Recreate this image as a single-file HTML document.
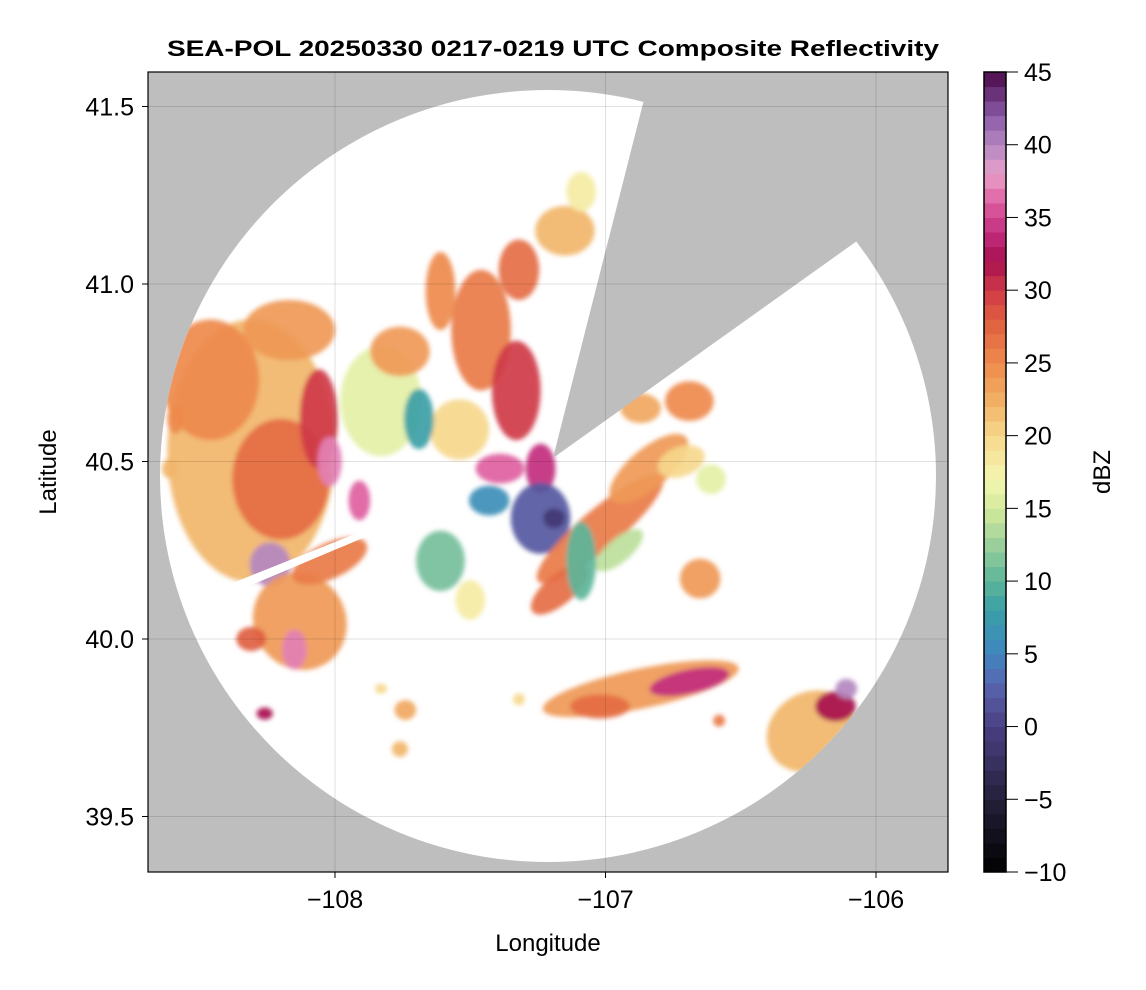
<!DOCTYPE html>
<html><head><meta charset="utf-8">
<style>
html,body{margin:0;padding:0;background:#fff;}
svg{display:block;font-family:"Liberation Sans",Arial,sans-serif;}
</style></head>
<body>
<svg id="chart" width="1146" height="990" viewBox="0 0 1146 990">
<defs>
  <clipPath id="plotclip"><rect x="148" y="72" width="800" height="800"/></clipPath>
  <clipPath id="circclip"><ellipse cx="548" cy="476" rx="388" ry="386"/></clipPath>
  <filter id="soft" x="-20%" y="-20%" width="140%" height="140%"><feGaussianBlur stdDeviation="2.5"/></filter>
</defs>
<text x="553" y="56" text-anchor="middle" font-size="22" font-weight="bold" textLength="772" lengthAdjust="spacingAndGlyphs">SEA-POL 20250330 0217-0219 UTC Composite Reflectivity</text>
<g clip-path="url(#plotclip)">
  <rect x="148" y="72" width="800" height="800" fill="#bebebe"/>
  <ellipse cx="548" cy="476" rx="388" ry="386" fill="#ffffff"/>
  <g id="echoes" clip-path="url(#circclip)" filter="url(#soft)"></g>
  <polygon points="420,508 190,600 192,610 420,514" fill="#ffffff"/>
  <polygon points="553,458 651,72 948,72 948,176" fill="#bebebe"/>
  <g id="grid"></g>
</g>
<rect x="148" y="72" width="800" height="800" fill="none" stroke="#000" stroke-width="1.2"/>
<g id="xaxis"></g>
<g id="yaxis"></g>
<text x="548" y="951" text-anchor="middle" font-size="24">Longitude</text>
<text x="56" y="472" text-anchor="middle" font-size="24" transform="rotate(-90 56 472)">Latitude</text>
<g id="cbar"></g>
<text x="1110" y="472" text-anchor="middle" font-size="24" transform="rotate(-90 1110 472)">dBZ</text>
</svg>
<script>
// ---- data ----
const xTicks = [-108, -107, -106];
const xTickLabels = ["\u2212108", "\u2212107", "\u2212106"];
const yTicks = [39.5, 40.0, 40.5, 41.0, 41.5];
const yTickLabels = ["39.5", "40.0", "40.5", "41.0", "41.5"];
const cbarTicks = [-10, -5, 0, 5, 10, 15, 20, 25, 30, 35, 40, 45];
const cbarTickLabels = ["\u221210", "\u22125", "0", "5", "10", "15", "20", "25", "30", "35", "40", "45"];
// echo cells: centre lon/lat, half-extent in degrees, orientation, reflectivity
const echoLon  = [-108.31,-108.46,-108.17,-108.20,-108.06,-108.02,-107.91,-108.24,-108.13,-108.15,-108.31,-108.26,-108.02,
  -107.83,-107.76,-107.61,-107.32,-107.15,-107.09,-107.46,-107.33,-107.54,-107.69,-107.39,-107.24,
  -107.24,-107.19,-107.43,-107.61,-107.50,-107.02,-107.17,-106.84,-106.72,-106.95,-107.09,
  -106.87,-106.69,-106.65,-106.61,-106.87,-106.69,-107.02,-106.24,-106.15,-106.11,
  -107.74,-107.76,-107.83,-106.58,-107.32,-108.61,-108.59];
const echoLat  = [40.53,40.73,40.87,40.45,40.62,40.50,40.39,40.21,40.05,39.97,40.00,39.79,40.22,
  40.67,40.81,40.98,41.04,41.15,41.26,40.87,40.70,40.59,40.62,40.48,40.48,
  40.34,40.34,40.39,40.22,40.11,40.31,40.14,40.48,40.50,40.25,40.22,
  40.65,40.67,40.17,40.45,39.86,39.88,39.81,39.74,39.81,39.86,
  39.80,39.69,39.86,39.77,39.83,40.48,40.62];
const echoRLon = [0.31,0.18,0.17,0.18,0.07,0.045,0.04,0.075,0.17,0.045,0.055,0.03,0.15,
  0.15,0.11,0.055,0.075,0.11,0.055,0.11,0.09,0.11,0.055,0.09,0.055,
  0.11,0.04,0.075,0.09,0.055,0.30,0.13,0.18,0.09,0.11,0.055,
  0.075,0.09,0.075,0.055,0.37,0.15,0.11,0.17,0.075,0.04,
  0.04,0.03,0.022,0.022,0.022,0.03,0.03];
const echoRLat = [0.37,0.17,0.085,0.17,0.14,0.07,0.056,0.062,0.14,0.056,0.034,0.017,0.05,
  0.155,0.07,0.11,0.085,0.07,0.056,0.17,0.14,0.085,0.085,0.042,0.07,
  0.10,0.028,0.042,0.085,0.056,0.056,0.042,0.056,0.042,0.034,0.11,
  0.042,0.056,0.056,0.042,0.056,0.034,0.034,0.11,0.042,0.028,
  0.028,0.022,0.014,0.017,0.017,0.028,0.042];
const echoAngle = [0,0,0,0,0,0,0,0,-30,0,0,0,-25,
  0,0,0,0,0,0,0,0,0,0,0,0,
  0,0,0,0,0,-40,-40,-40,-20,-40,0,
  0,0,0,0,-12,-12,0,-30,0,0,
  0,0,0,0,0,0,0];
const echoDbz = [22,25,24,27,30,37,36,40,24,37,28,32,26,
  16,24,25,27,22,18,26,30,20,8,36,34,
  2,-1,6,11,18,26,27,24,20,14,10,
  23,25,24,16,24,34,27,22,32,40,
  23,22,20,26,20,22,25];

// ---- scales ----
const xs = lon => 335 + (lon + 108) * 270.5;
const ys = lat => 284 - (lat - 41.0) * 355;
const cbTop = 72, cbBot = 872, cbMin = -10, cbMax = 45;
const cs = v => cbBot - (v - cbMin) / (cbMax - cbMin) * (cbBot - cbTop);

const stops = [[-10,"#000000"],[-5,"#24203a"],[-2,"#3b3466"],[0,"#4b3f82"],[3,"#5866b0"],[5,"#3f86bf"],[8,"#3a9fa6"],[10,"#5cb59a"],[13,"#a6d49c"],[15,"#d4ea9c"],[17,"#f4f6b0"],[20,"#f6d88c"],[22,"#f1b66a"],[25,"#ee8a4c"],[28,"#e05e40"],[30,"#cf3a48"],[32,"#a8104f"],[34,"#c22d7e"],[36,"#de5fa0"],[38,"#e8a0ca"],[40,"#b488c0"],[42,"#8a5aa8"],[45,"#4a0a48"]];
function hex(h){return [1,3,5].map(i=>parseInt(h.substr(i,2),16));}
function cmap(v){
  if(v<=stops[0][0]) return stops[0][1];
  for(let i=1;i<stops.length;i++){
    if(v<=stops[i][0]){
      const a=stops[i-1],b=stops[i],t=(v-a[0])/(b[0]-a[0]);
      const ca=hex(a[1]),cb=hex(b[1]);
      return "rgb("+ca.map((c,k)=>Math.round(c+(cb[k]-c)*t)).join(",")+")";
    }
  }
  return stops[stops.length-1][1];
}
const NS="http://www.w3.org/2000/svg";
function mk(tag,attrs,parent){const e=document.createElementNS(NS,tag);for(const k in attrs)e.setAttribute(k,attrs[k]);parent.appendChild(e);return e;}

// ---- echoes ----
const eg=document.getElementById("echoes");
for(let i=0;i<echoLon.length;i++){
  const cx=xs(echoLon[i]), cy=ys(echoLat[i]);
  const rx=xs(echoLon[i]+echoRLon[i])-cx, ry=ys(echoLat[i])-ys(echoLat[i]+echoRLat[i]);
  const el=mk("ellipse",{cx:cx,cy:cy,rx:rx,ry:ry,fill:cmap(echoDbz[i]),"fill-opacity":0.92,transform:"rotate("+echoAngle[i]+" "+cx+" "+cy+")"},eg);
  
  
}

// ---- grid & axes ----
const gg=document.getElementById("grid"), xa=document.getElementById("xaxis"), ya=document.getElementById("yaxis");
xTicks.forEach((t,i)=>{
  const x=xs(t);
  mk("line",{x1:x,y1:72,x2:x,y2:872,stroke:"rgba(0,0,0,0.12)","stroke-width":1},gg);
  mk("line",{x1:x,y1:872,x2:x,y2:878,stroke:"#000"},xa);
  const tx=mk("text",{x:x,y:908,"text-anchor":"middle","font-size":25},xa);
  tx.textContent=xTickLabels[i];
  
  
});
yTicks.forEach((t,i)=>{
  const y=ys(t);
  mk("line",{x1:148,y1:y,x2:948,y2:y,stroke:"rgba(0,0,0,0.12)","stroke-width":1},gg);
  mk("line",{x1:142,y1:y,x2:148,y2:y,stroke:"#000"},ya);
  const tx=mk("text",{x:134,y:y+9,"text-anchor":"end","font-size":25},ya);
  tx.textContent=yTickLabels[i];
  
  
});

// ---- colorbar ----
const cb=document.getElementById("cbar");
for(let v=cbMin; v<cbMax; v++){
  const r=mk("rect",{x:984,y:cs(v+1),width:22,height:cs(v)-cs(v+1)+0.5,fill:cmap(v+0.5)},cb);
  
  
}
mk("rect",{x:984,y:cbTop,width:22,height:cbBot-cbTop,fill:"none",stroke:"#000","stroke-width":1.5},cb);
cbarTicks.forEach((t,i)=>{
  const y=cs(t);
  mk("line",{x1:1006,y1:y,x2:1018,y2:y,stroke:"#000"},cb);
  const tx=mk("text",{x:1024,y:y+9,"font-size":25},cb);
  tx.textContent=cbarTickLabels[i];
  
  
});
</script>
</body></html>
